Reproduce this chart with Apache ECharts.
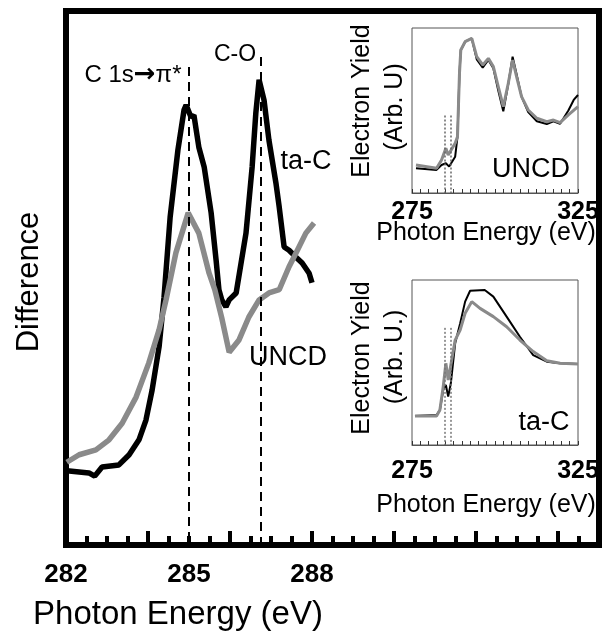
<!DOCTYPE html>
<html>
<head>
<meta charset="utf-8">
<script src="https://cdn.jsdelivr.net/npm/echarts@6/dist/echarts.min.js"></script>
<style>html,body{margin:0;padding:0;background:#fff}#c{width:602px;height:641px}</style>
</head>
<body>
<div id="c"></div>
<script>
// ---- Main panel: difference spectra (Photon Energy eV vs arb. units) ----
var tacX = [282.02,282.56,282.70,282.88,283.29,283.54,283.78,283.95,284.10,284.27,284.39,284.54,284.73,284.88,284.93,285.05,285.12,285.24,285.37,285.54,285.66,285.73,285.80,285.90,285.98,286.15,286.39,286.54,286.63,286.71,286.83,286.95,287.12,287.20,287.32,287.44,287.61,287.76,287.93,288.00];
var tacY = [13.9,13.5,12.9,14.6,15.0,16.9,19.7,23.4,29.0,37.1,46.3,61.4,74.0,81.5,82.4,80.1,80.5,74.5,70.8,62.2,53.4,47.8,45.9,44.6,45.9,47.2,58.4,70.8,80.9,87.1,83.3,75.8,67.8,63.3,55.8,55.2,53.9,52.8,50.9,49.1];
var uncdX = [282.02,282.32,282.73,283.05,283.37,283.71,284.02,284.27,284.44,284.68,284.98,285.24,285.49,285.63,285.80,285.98,286.22,286.46,286.71,286.95,287.20,287.44,287.61,287.85,288.05];
var uncdY = [15.5,16.9,17.8,19.7,22.8,27.7,34.1,40.3,45.9,54.7,62.2,58.4,50.9,47.8,42.5,36.1,38.4,42.7,45.9,47.2,47.8,52.1,54.7,58.4,60.3];
var peakEnergies = [285.0, 286.75];
var peakTops = [89.5, 91.4];
var mainTickLabels = [282, 285, 288];

// ---- Inset 1: UNCD NEXAFS ----
var in1GrayX = [276.2,282.4,283.9,285.2,285.9,288.0,288.7,289.3,289.7,291.0,293.0,294.5,296.3,298.0,299.5,301.0,302.5,304.0,305.3,306.5,308.0,310.0,312.6,315.6,317.6,319.6,322.1,325.0];
var in1GrayY = [17.0,15.0,20.0,27.1,23.0,30.1,34.1,72.5,86.7,91.7,93.7,82.6,77.6,81.6,76.6,64.4,52.3,66.5,80.6,70.5,58.4,50.3,45.3,43.2,44.2,42.6,47.3,52.3];
var in1BlackX = [276.2,282.4,283.9,285.2,286.2,288.0,288.7,289.3,289.7,291.0,293.0,294.5,296.3,298.0,299.5,301.0,302.5,304.0,305.3,306.5,308.0,310.0,312.6,315.6,317.6,319.6,322.1,323.7,325.0];
var in1BlackY = [15.0,14.0,17.0,18.0,16.0,22.0,34.0,72.5,86.7,91.7,93.7,81.0,76.0,80.6,75.6,62.0,49.5,66.0,82.6,72.0,58.4,49.0,43.5,41.8,43.5,42.0,50.0,56.4,59.4];

// ---- Inset 2: ta-C NEXAFS ----
var in2GrayX = [275.9,282.4,283.4,284.4,285.2,285.9,286.7,288.0,289.5,291.0,293.0,295.5,299.5,303.5,307.5,311.5,315.6,319.6,325.0];
var in2GrayY = [17.6,17.6,21.2,35.4,49.5,39.4,48.5,63.6,69.7,79.8,86.9,82.8,77.8,71.7,63.6,56.6,51.1,49.5,49.1];
var in2BlackX = [275.9,282.4,283.4,284.4,285.2,285.9,286.7,288.0,289.5,291.0,292.5,296.9,299.5,303.5,307.5,311.5,315.6,319.6,325.0];
var in2BlackY = [17.6,18.2,21.2,33.3,36.4,29.3,37.4,61.6,73.7,86.9,93.5,93.9,89.9,77.8,65.6,54.5,50.5,49.5,49.1];
var insetLineEnergies = [285.0, 286.7];
var in1LineTop = 47;
var in2LineTop = 71;
var insetTickLabels = [275, 325];

function pairs(xs, ys){ return xs.map(function(x,i){ return [x, ys[i]]; }); }

var FONT = '"Liberation Sans", Arial, sans-serif';
var GRAY = '#8a8a8a';

function insetX(gridIndex, margin){
  return {
    type:'value', gridIndex:gridIndex, position:'bottom', min:275, max:325, interval:2.5,
    axisLine:{show:true, lineStyle:{color:'#555', width:1}},
    axisTick:{show:true, inside:true, length:4, lineStyle:{color:'#333', width:1}},
    splitLine:{show:false},
    axisLabel:{show:true, margin:margin, color:'#000', fontFamily:FONT, fontWeight:'bold', fontSize:25,
      formatter:function(v){ return insetTickLabels.indexOf(v) >= 0 ? String(v) : ''; }}
  };
}
function insetY(gridIndex){
  return {type:'value', gridIndex:gridIndex, min:0, max:100, show:false, splitLine:{show:false}};
}
function insetLines(top, color){
  return {
    silent:true, symbol:['none','none'], label:{show:false},
    lineStyle:{type:[2,2], width:1.5, color:color},
    data: insetLineEnergies.map(function(e){ return [{coord:[e, top]},{coord:[e, 0]}]; })
  };
}
function txt(text, x, y, size, opts){
  opts = opts || {};
  var style = {text:text, x:0, y:0, fill:'#000', font:(opts.weight||'normal')+' '+size+'px '+FONT,
      textAlign:'center', textVerticalAlign:'middle', align:'center', verticalAlign:'middle'};
  if (opts.rich) style.rich = opts.rich;
  return { type:'text', x:x, y:y, rotation: opts.rot || 0, z:10, style:style };
}

var chart = echarts.init(document.getElementById('c'), null, {renderer:'canvas'});
chart.setOption({
  animation:false,
  backgroundColor:'#fff',
  grid:[
    {left:66, top:11, width:533, height:534, show:true, borderWidth:6, borderColor:'#000', containLabel:false, outerBoundsMode:'none'},
    {left:412, top:28, width:166, height:165, show:true, borderWidth:1, borderColor:'#555', containLabel:false, outerBoundsMode:'none'},
    {left:412, top:280, width:166, height:165, show:true, borderWidth:1, borderColor:'#555', containLabel:false, outerBoundsMode:'none'}
  ],
  xAxis:[
    {type:'value', gridIndex:0, position:'bottom', min:282, max:295, interval:2,
      axisLine:{show:false},
      axisTick:{show:true, inside:true, length:14, lineStyle:{color:'#000', width:4}},
      minorTick:{show:true, splitNumber:4, length:9, lineStyle:{color:'#000', width:4}},
      splitLine:{show:false}, minorSplitLine:{show:false},
      axisLabel:{show:false}},
    {type:'value', gridIndex:0, position:'bottom', min:282, max:295, interval:3,
      axisLine:{show:false}, axisTick:{show:false}, splitLine:{show:false},
      axisLabel:{show:true, margin:17, color:'#000', fontFamily:FONT, fontWeight:'bold', fontSize:26,
        showMaxLabel:false,
        formatter:function(v){ return mainTickLabels.indexOf(v) >= 0 ? String(v) : ''; }}},
    insetX(1, 7),
    insetX(2, 14)
  ],
  yAxis:[
    {type:'value', gridIndex:0, min:0, max:100, show:false, splitLine:{show:false}},
    insetY(1),
    insetY(2)
  ],
  series:[
    {type:'line', name:'ta-C', xAxisIndex:0, yAxisIndex:0, data:pairs(tacX, tacY), symbol:'none',
      lineStyle:{color:'#000', width:5.5}, z:3,
      markLine:{silent:true, symbol:['none','none'], label:{show:false},
        lineStyle:{type:[9,6], width:2, color:'#000'},
        data: peakEnergies.map(function(e,i){ return [{coord:[e, peakTops[i]]},{coord:[e, 0]}]; })}},
    {type:'line', name:'UNCD', xAxisIndex:0, yAxisIndex:0, data:pairs(uncdX, uncdY), symbol:'none',
      lineStyle:{color:GRAY, width:5.5}, z:4},
    {type:'line', xAxisIndex:2, yAxisIndex:1, data:pairs(in1BlackX, in1BlackY), symbol:'none',
      lineStyle:{color:'#000', width:2}, z:3, markLine:insetLines(in1LineTop, '#666')},
    {type:'line', xAxisIndex:2, yAxisIndex:1, data:pairs(in1GrayX, in1GrayY), symbol:'none',
      lineStyle:{color:GRAY, width:3}, z:4},
    {type:'line', xAxisIndex:3, yAxisIndex:2, data:pairs(in2BlackX, in2BlackY), symbol:'none',
      lineStyle:{color:'#000', width:2}, z:3, markLine:insetLines(in2LineTop, '#777')},
    {type:'line', xAxisIndex:3, yAxisIndex:2, data:pairs(in2GrayX, in2GrayY), symbol:'none',
      lineStyle:{color:GRAY, width:3}, z:4}
  ],
  graphic:[
    txt('Photon Energy (eV)', 178, 615, 33),
    txt('Difference', 29, 282, 31, {rot:Math.PI/2}),
    txt('{a|C 1s}{b|\u2192}{a|\u03c0*}', 133, 75, 24, {rich:{
      a:{fontFamily:FONT, fontSize:24, fill:'#000', color:'#000'},
      b:{fontFamily:'"DejaVu Sans", sans-serif', fontWeight:'bold', fontSize:26, fill:'#000', color:'#000'}
    }}),
    txt('C-O', 235, 55, 23),
    txt('ta-C', 306, 162, 27),
    txt('UNCD', 288, 358, 27),
    txt('Electron Yield', 362, 101, 25, {rot:Math.PI/2}),
    txt('(Arb. U)', 395, 107, 25, {rot:Math.PI/2}),
    txt('UNCD', 531, 170, 27),
    txt('Photon Energy (eV)', 486, 233, 25),
    txt('Electron Yield', 362, 358, 25, {rot:Math.PI/2}),
    txt('(Arb. U.)', 395, 357, 25, {rot:Math.PI/2}),
    txt('ta-C', 544, 423, 27),
    txt('Photon Energy (eV)', 486, 505, 25)
  ]
});
</script>
</body>
</html>
